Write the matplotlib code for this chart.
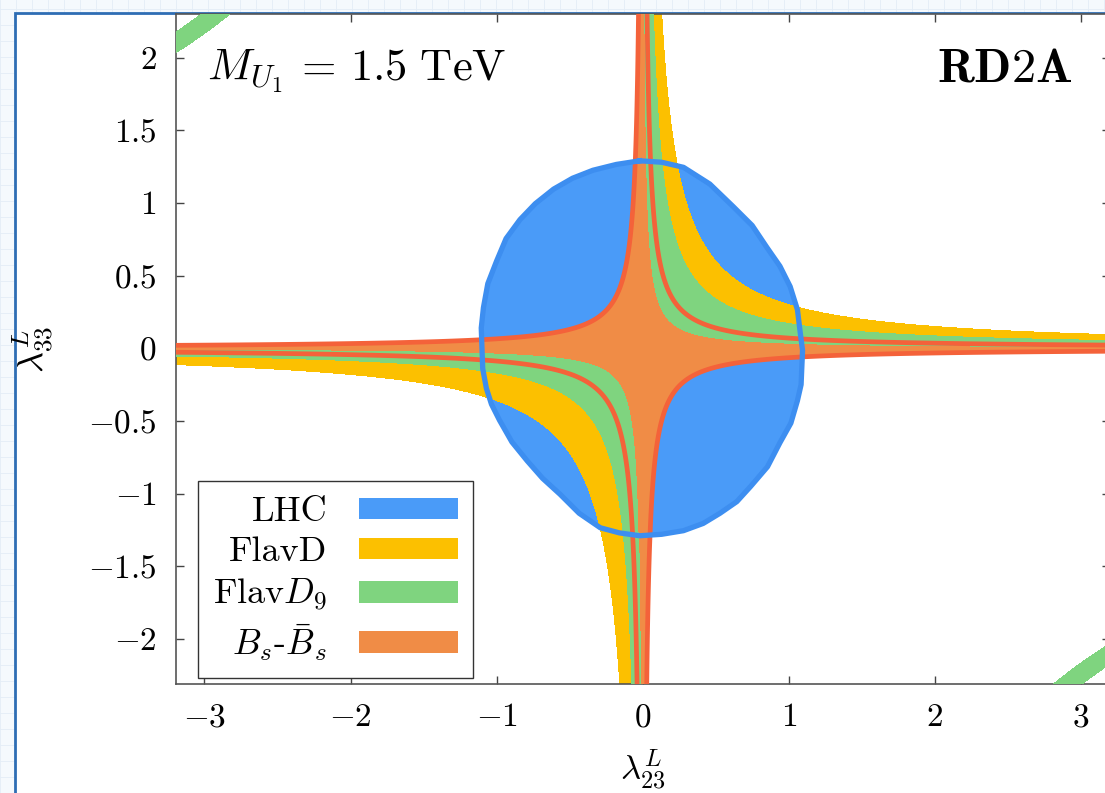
import numpy as np
import matplotlib
matplotlib.use("Agg")
import matplotlib.pyplot as plt
from matplotlib.patches import Rectangle, Patch
from matplotlib.lines import Line2D

plt.rcParams['font.family'] = 'serif'
plt.rcParams['font.serif'] = ['cmr10']
plt.rcParams['mathtext.fontset'] = 'cm'
plt.rcParams['axes.formatter.use_mathtext'] = True

# LHC allowed region, boundary points (lambda23, lambda33)
lhc_x = [-0.02, 0.13, 0.28, 0.46, 0.62, 0.75, 0.85, 0.94, 1.01, 1.06, 1.08, 1.095,
         1.09, 1.085, 1.06, 1.015, 0.94, 0.855, 0.74, 0.645, 0.53, 0.415, 0.28, 0.13,
         -0.02, -0.16, -0.29, -0.435, -0.565, -0.685, -0.79, -0.895, -0.98, -1.035, -1.07, -1.095,
         -1.10, -1.105, -1.09, -1.06, -1.00, -0.935, -0.84, -0.735, -0.61, -0.48, -0.34, -0.18]
lhc_y = [1.29, 1.28, 1.245, 1.13, 0.975, 0.845, 0.695, 0.565, 0.425, 0.265, 0.10, -0.015,
         -0.13, -0.25, -0.36, -0.515, -0.65, -0.815, -0.95, -1.055, -1.135, -1.205, -1.255, -1.28,
         -1.29, -1.27, -1.235, -1.135, -1.005, -0.895, -0.775, -0.645, -0.495, -0.385, -0.275, -0.14,
         0.00, 0.14, 0.28, 0.445, 0.60, 0.755, 0.885, 0.995, 1.095, 1.17, 1.225, 1.265]

# regions as bands in the product lambda23*lambda33
# 'pos' = branch with lambda23 > 0, 'neg' = branch with lambda23 < 0
bs_low = -0.065
bs_high = {'pos': 0.070, 'neg': 0.088}
flavd_band = {'pos': (0.0, 0.30), 'neg': (0.0, 0.36)}
flavd9_band = {'pos': (0.035, 0.17), 'neg': (0.04, 0.17)}
flavd9_far = (-6.95, -6.5)

labels = ['LHC', 'FlavD', r'Flav$D_9$', r'$B_s$-$\bar{B}_s$']
colors = ['#4a9bf8', '#fcc000', '#7fd47f', '#f08c46']
red = '#f4623a'
lhc_edge = '#3d8ef0'

xticks = [-3, -2, -1, 0, 1, 2, 3]
yticks = [-2, -1.5, -1, -0.5, 0, 0.5, 1, 1.5, 2]
yticklabels = ['$-2$', '$-1.5$', '$-1$', '$-0.5$', '$0$', '$0.5$', '$1$', '$1.5$', '$2$']

fig = plt.figure(figsize=(11.05, 7.93), dpi=100)
fig.patch.set_facecolor('#f5f9fd')

# screenshot frame
for gx in np.arange(0, 1105, 16):
    fig.lines.append(Line2D([gx / 1105, gx / 1105], [0, 1], color='#e4edf6', lw=0.6,
                            transform=fig.transFigure, zorder=-3))
for gy in np.arange(0, 793, 16):
    fig.lines.append(Line2D([0, 1], [gy / 793, gy / 793], color='#e4edf6', lw=0.6,
                            transform=fig.transFigure, zorder=-3))
fig.patches.append(Rectangle((14.5 / 1105, -0.05), 1.2, (793 - 12.5) / 793 + 0.05,
                             transform=fig.transFigure, facecolor='white',
                             edgecolor='#2e6db4', lw=2, zorder=-2))

ax = fig.add_axes([176 / 1105, 109 / 793, 934 / 1105, 670 / 793])
ax.set_xlim(-3.195, 3.2)
ax.set_ylim(-2.31, 2.30)

x = np.linspace(-3.3, 3.3, 1400)
y = np.linspace(-2.4, 2.4, 1100)
X, Y = np.meshgrid(x, y)
Z = X * Y
Zp = np.ma.masked_where(X < -0.03, Z)
Zn = np.ma.masked_where(X > 0.03, Z)

# LHC
ax.fill(lhc_x, lhc_y, color=colors[0], zorder=1, lw=0)

# FlavD
ax.contourf(X, Y, Zp, levels=list(flavd_band['pos']), colors=[colors[1]], zorder=2)
ax.contourf(X, Y, Zn, levels=list(flavd_band['neg']), colors=[colors[1]], zorder=2)

# Bs mixing
ax.contourf(X, Y, Zp, levels=[bs_low, bs_high['pos']], colors=[colors[3]], zorder=3)
ax.contourf(X, Y, Zn, levels=[bs_low, bs_high['neg']], colors=[colors[3]], zorder=3)

# FlavD9
ax.contourf(X, Y, Zp, levels=list(flavd9_band['pos']), colors=[colors[2]], zorder=4)
ax.contourf(X, Y, Zn, levels=list(flavd9_band['neg']), colors=[colors[2]], zorder=4)
ax.contourf(X, Y, Z, levels=list(flavd9_far), colors=[colors[2]], zorder=4)

# Bs boundary lines
ax.contour(X, Y, Z, levels=[bs_low], colors=[red], linewidths=3.4,
           linestyles='solid', zorder=5)
ax.contour(X, Y, Zp, levels=[bs_high['pos']], colors=[red], linewidths=3.4,
           linestyles='solid', zorder=5)
ax.contour(X, Y, Zn, levels=[bs_high['neg']], colors=[red], linewidths=3.4,
           linestyles='solid', zorder=5)

# LHC outline
ax.plot(lhc_x + lhc_x[:1], lhc_y + lhc_y[:1], color=lhc_edge, lw=3.8, zorder=6,
        solid_joinstyle='round')

ax.set_xticks(xticks)
ax.set_xticklabels(['$%d$' % t for t in xticks])
ax.set_yticks(yticks)
ax.set_yticklabels(yticklabels)
ax.tick_params(direction='in', length=6, width=1, top=True, right=True,
               labelsize=24, pad=14, color='#444444')
for s in ax.spines.values():
    s.set_color('#555555')
    s.set_linewidth(1.2)

ax.set_xlabel(r'$\lambda^L_{23}$', fontsize=25)
ax.xaxis.set_label_coords(0.5, -0.095)
ax.set_ylabel(r'$\lambda^L_{33}$', fontsize=26)
ax.yaxis.set_label_coords(-0.128, 0.5)

ax.text(0.033, 0.95, r'$M_{U_1}\,=\,1.5\ \mathrm{TeV}$', transform=ax.transAxes,
        fontsize=32, ha='left', va='top')
ax.text(0.960, 0.95, r'$\mathbf{RD2A}$', transform=ax.transAxes,
        fontsize=35, ha='right', va='top')

handles = [Patch(facecolor=c, edgecolor='none') for c in colors]
leg = ax.legend(handles, labels, loc='lower left', bbox_to_anchor=(0.0236, 0.009),
                borderaxespad=0, markerfirst=False, fontsize=26, handlelength=2.75,
                handleheight=0.54, handletextpad=0.88, labelspacing=0.24,
                fancybox=False, framealpha=1, edgecolor='#333333', borderpad=0.42)
leg.get_frame().set_linewidth(1.0)
leg.set_zorder(10)

fig.savefig('out.png', dpi=100)
